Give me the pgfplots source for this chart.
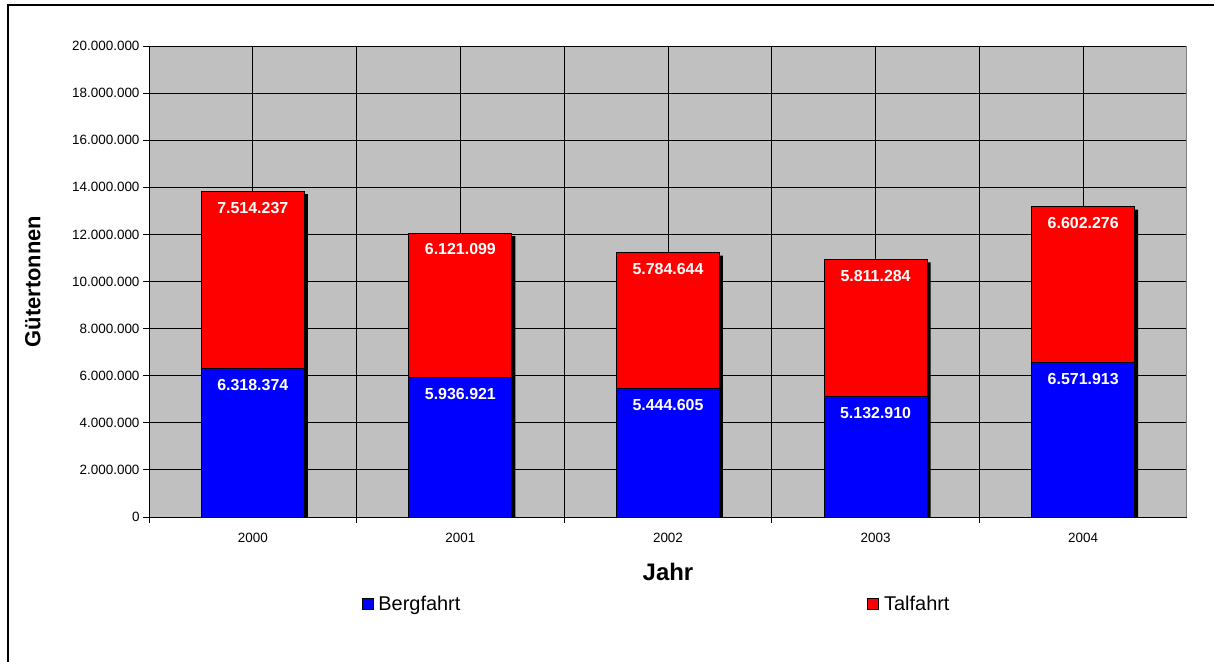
\documentclass[border=0pt]{standalone}
\usepackage{fontspec}
\setmainfont{Liberation Sans}
\usepackage{pgfplots}
\usepackage{pgfplotstable}
\pgfplotsset{compat=1.18}
\definecolor{plotgray}{HTML}{C0C0C0}
\definecolor{bergblue}{HTML}{0000FF}
\definecolor{talred}{HTML}{FF0000}

% Bergfahrt (b) und Talfahrt (t) in Gütertonnen
\pgfplotstableread{
x b t bl tl
0 6318374 7514237 6.318.374 7.514.237
1 5936921 6121099 5.936.921 6.121.099
2 5444605 5784644 5.444.605 5.784.644
3 5132910 5811284 5.132.910 5.811.284
4 6571913 6602276 6.571.913 6.602.276
}\tonnen

\begin{document}
\begin{tikzpicture}
\useasboundingbox (0,0) rectangle (1214bp,662bp);
\draw[line width=2bp] (8bp,-2bp) -- (8bp,657bp) -- (1216bp,657bp);
\begin{axis}[
    at={(149bp,145bp)}, anchor=south west,
    scale only axis,
    width=1038bp, height=471bp,
    ybar, bar width=103bp, bar shift=0pt,
    xmin=-0.5, xmax=4.5,
    ymin=0, ymax=20000000,
    ytick distance=2000000,
    scaled y ticks=false,
    axis x line*=bottom, axis y line*=left,
    axis line style={black, line width=0.8bp},
    axis background/.style={fill=plotgray},
    tick align=outside,
    major tick length=6bp,
    tick style={black, line width=0.8bp},
    xtick={-0.5,0.5,...,3.5},
    xticklabels={},
    extra x ticks={0,1,2,3,4},
    extra x tick labels={2000,2001,2002,2003,2004},
    extra x tick style={grid=major, major tick length=0pt,
        tick label style={yshift=-13bp}},
    xmajorgrids, ymajorgrids,
    grid style={black, line width=0.8bp},
    tick label style={font=\fontsize{13.5}{15}\selectfont},
    y tick label style={/pgf/number format/fixed,
        /pgf/number format/1000 sep={.},
        /pgf/number format/assume math mode=true},
    xlabel={Jahr},
    xlabel style={at={(axis description cs:0.5,-0.1168)}, anchor=center,
        font=\bfseries\fontsize{24}{26}\selectfont},
    ylabel={Gütertonnen},
    ylabel style={at={(axis description cs:-0.1118,0.5)}, anchor=center,
        font=\bfseries\fontsize{22}{24}\selectfont},
    nodes near coords align={below},
    every node near coord/.append style={text=white, yshift=-7bp,
        font=\bfseries\fontsize{16}{18}\selectfont},
    legend columns=2,
    legend style={draw=none, fill=none,
        at={(axis description cs:0.489,-0.1847)}, anchor=center,
        font=\fontsize{20}{22}\selectfont,
        /tikz/every odd column/.append style={column sep=3bp},
        /tikz/every even column/.append style={column sep=405bp}},
]
\addlegendimage{legend image code/.code={\draw[fill=bergblue, draw=black, line width=0.8bp] (0bp,-5.5bp) rectangle (11bp,5.5bp);}}
\addlegendentry{Bergfahrt}
\addlegendimage{legend image code/.code={\draw[fill=talred, draw=black, line width=0.8bp] (0bp,-5.5bp) rectangle (11bp,5.5bp);}}
\addlegendentry{Talfahrt}

% Schatten
\addplot[fill=black, draw=none, bar shift=3.5bp, yshift=-3bp, forget plot]
    table[x=x, y expr=\thisrow{b}+\thisrow{t}] {\tonnen};
% Talfahrt (oben)
\addplot[fill=talred, draw=black, line width=1bp, forget plot,
    nodes near coords, point meta=explicit symbolic]
    table[x=x, y expr=\thisrow{b}+\thisrow{t}, meta=tl] {\tonnen};
% Bergfahrt (unten)
\addplot[fill=bergblue, draw=black, line width=1bp, forget plot,
    nodes near coords, point meta=explicit symbolic]
    table[x=x, y=b, meta=bl] {\tonnen};
% rechter Rand
\draw[gray, line width=1bp] (axis cs:4.5,0) -- (axis cs:4.5,20000000);
\draw[black, line width=0.8bp] (axis cs:4.5,0) -- ++(0,-6bp);
\end{axis}
\end{tikzpicture}
\end{document}
